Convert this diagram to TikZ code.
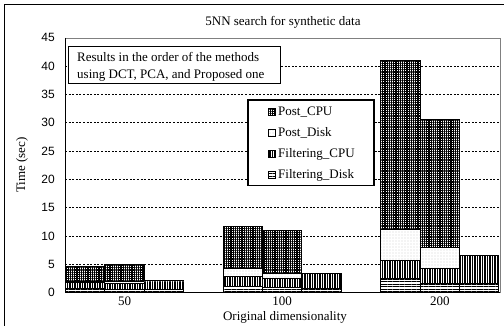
\documentclass[tikz,border=0pt]{standalone}
\usepackage{fontspec}
\setmainfont{Liberation Serif}
\setsansfont{Liberation Sans}
\usetikzlibrary{patterns.meta}

\tikzset{
	gridline/.style={dash pattern=on 2pt off 1.6pt, line width=0.6pt},
	segment/.style={draw, line width=0.9pt, preaction={fill=white}},
	fdisk/.style={segment, pattern={Lines[angle=0,distance=2.4pt,line width=0.9pt]}},
	fcpu/.style={segment, pattern={Lines[angle=90,distance=2.5pt,line width=1.2pt]}},
	pdisk/.style={segment, pattern={Dots[distance=3pt,radius=0.35pt]}, pattern color=gray},
	pcpu/.style={segment, pattern={Lines[angle=0,distance=2.2pt,line width=1.1pt]},
		postaction={pattern={Lines[angle=90,distance=2.2pt,line width=1.1pt]}}},
	txt/.style={font=\fontsize{13}{15}\selectfont, inner sep=0pt},
}

\begin{document}
\begin{tikzpicture}[x=1pt, y=1pt]
	\useasboundingbox (0,0) rectangle (504,325);

	% Outer frame (cut at the right and bottom)
	\draw[line width=0.8pt] (4.5,-5) |- (510,320.5);

	% Title and axis labels
	\node[txt] (title) at (283,303) {5NN search for synthetic data};
	\node[txt] (xlabel) at (285,8) {Original dimensionality};
	\node[txt, rotate=90] (ylabel) at (22,160) {Time (sec)};

	\begin{scope}[shift={(0,32.5)}, y=5.66pt]
		% Plot area and grid
		\draw[gray, line width=0.6pt] (65,0) rectangle (500,45);
		\foreach \v in {5,10,...,40}
			\draw[gridline] (65,\v) -- (500,\v);
		\foreach \v in {0,5,...,45}
			\node[anchor=east, inner sep=0pt, font=\sffamily\fontsize{12}{12}\selectfont] (ytick\v) at (55,\v) {\v};

		% Bars: x / Filtering_Disk / Filtering_CPU / Post_Disk / Post_CPU (stacked tops)
		\foreach \bx/\fd/\fc/\pd/\pc in {
				65.5/0.7/1.7/2.0/4.6, 104.9/0.6/1.6/2.0/5.0, 144.3/0.6/2.1/2.1/2.1,
				223.1/1.0/2.9/4.2/11.6, 262.5/0.85/2.5/3.4/10.9, 301.9/0.8/3.4/3.4/3.4,
				380.7/2.5/5.7/11.2/41.0, 420.1/1.6/4.3/7.9/30.5, 459.5/1.6/6.6/6.6/6.6} {
			\path[fdisk] (\bx,0) rectangle (\bx+39.4,\fd);
			\path[fcpu] (\bx,\fd) rectangle (\bx+39.4,\fc);
			\path[pdisk] (\bx,\fc) rectangle (\bx+39.4,\pd);
			\path[pcpu] (\bx,\pd) rectangle (\bx+39.4,\pc);
		}

		% Axes
		\draw[line width=0.9pt] (65,45) -- (65,0) -- (500,0);

		% Category labels
		\node[txt] (cat50) at (124.6,-1.5) {50};
		\node[txt] (cat100) at (282.2,-1.5) {100};
		\node[txt] (cat200) at (439.8,-1.5) {200};
	\end{scope}

	% Note box
	\draw[fill=white, line width=0.8pt] (68,241.5) rectangle (280,278.5);
	\node[txt, anchor=west] (note1) at (77,268) {Results in the order of the methods};
	\node[txt, anchor=west] (note2) at (77,250) {using DCT, PCA, and Proposed one};

	% Legend
	\draw[fill=white, line width=1.2pt] (248,139.5) rectangle (374,225);
	\path[pcpu, line width=0.6pt] (268.5,209.5) rectangle ++(7,7);
	\node[txt, anchor=west] (lgpcpu) at (278,213) {Post\_CPU};
	\path[pdisk, line width=0.6pt] (268.5,188.5) rectangle ++(7,7);
	\node[txt, anchor=west] (lgpdisk) at (278,192) {Post\_Disk};
	\path[fcpu, line width=0.6pt] (268.5,167.5) rectangle ++(7,7);
	\node[txt, anchor=west] (lgfcpu) at (278,171) {Filtering\_CPU};
	\path[fdisk, line width=0.6pt] (268.5,146.5) rectangle ++(7,7);
	\node[txt, anchor=west] (lgfdisk) at (278,150) {Filtering\_Disk};
\end{tikzpicture}
\end{document}
